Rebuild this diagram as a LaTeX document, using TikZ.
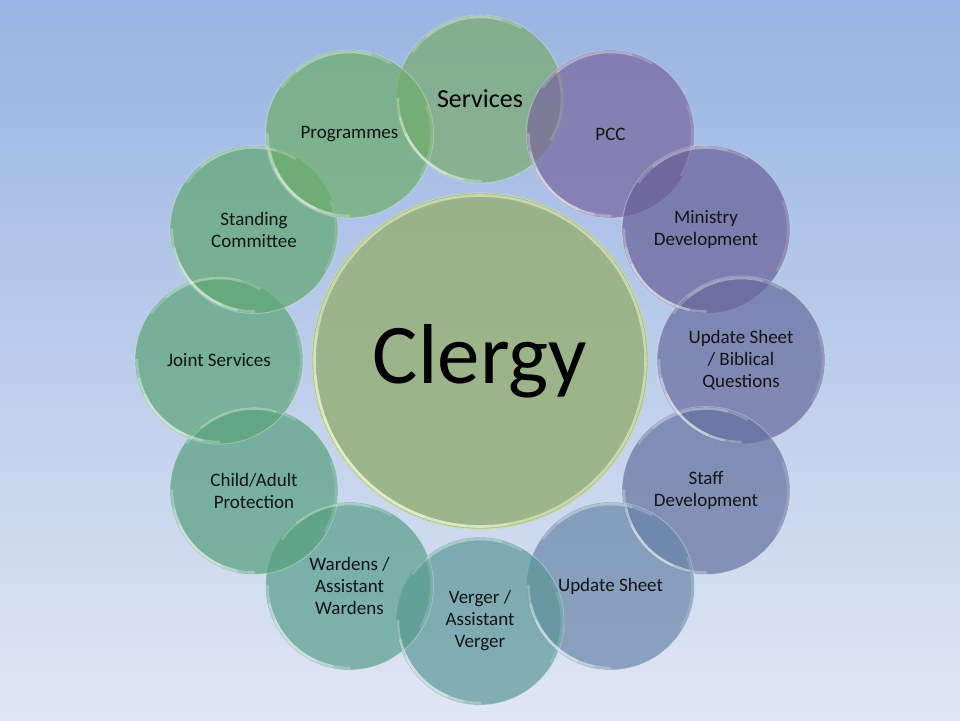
\documentclass[tikz,border=0pt]{standalone}
\usepackage{fontspec}
\setmainfont{Carlito}
\definecolor{bgtop}{RGB}{152,180,226}
\definecolor{bgmid}{RGB}{188,205,235}
\definecolor{bgbot}{RGB}{224,230,244}
\definecolor{colA}{RGB}{122,171,110}
\definecolor{colB}{RGB}{120,102,157}
\definecolor{colC}{RGB}{103,95,151}
\definecolor{colD}{RGB}{102,106,156}
\definecolor{colE}{RGB}{99,114,158}
\definecolor{colF}{RGB}{104,134,168}
\definecolor{colG}{RGB}{91,151,153}
\definecolor{colH}{RGB}{87,157,140}
\definecolor{colI}{RGB}{85,160,126}
\definecolor{colJ}{RGB}{91,164,121}
\definecolor{colK}{RGB}{96,167,112}
\definecolor{colL}{RGB}{109,173,106}
\definecolor{colHub}{RGB}{151,176,120}
\definecolor{hubrim}{RGB}{238,245,220}
\definecolor{hubedge}{RGB}{205,222,150}
\tikzset{
  ring/.style={circle, minimum size=168pt, inner sep=0pt, fill opacity=0.7,
    draw=white, draw opacity=0.3, line width=1pt},
  hub/.style={circle, minimum size=336pt, inner sep=0pt, fill opacity=0.85,
    draw=hubedge, draw opacity=0.9, line width=1pt},
  hilite/.style={white, opacity=0.28, line width=2.6pt, line cap=round},
  lbl/.style={font=\fontsize{19}{22}\selectfont, align=center, text=black!92, inner sep=0pt},
  biglbl/.style={font=\fontsize{26}{30}\selectfont, align=center, text=black, inner sep=0pt},
  hublbl/.style={font=\fontsize{85}{90}\selectfont, text=black, inner sep=0pt}
}
\begin{document}
\begin{tikzpicture}[x=1pt,y=-1pt]
\useasboundingbox (0,0) rectangle (960,720);
\shade[top color=bgtop, middle color=bgmid, bottom color=bgbot] (0,0) rectangle (960,720);

% centre
\node[hub, fill=colHub] (clergy) at (480,361) {};
\draw[hubrim, opacity=0.55, line width=2.6pt] (clergy.center) circle[radius=165.5];
\foreach \a/\b in {-170/-280,-185/-265,-200/-250}{
  \draw[hubrim, opacity=0.3, line width=2.8pt, line cap=round]
    ([shift={(clergy.center)}]\a:165.5) arc[start angle=\a, end angle=\b, radius=165.5];
}

% ring of circles
\node[ring, fill=colA] (services)   at (480,99) {};
\node[ring, fill=colB] (pcc)        at (610.5,134) {};
\node[ring, fill=colC] (ministry)   at (706,229.5) {};
\node[ring, fill=colD] (biblical)   at (741,360) {};
\node[ring, fill=colE] (staff)      at (706,490.5) {};
\node[ring, fill=colF] (update)     at (610.5,586) {};
\node[ring, fill=colG] (verger)     at (480,621) {};
\node[ring, fill=colH] (wardens)    at (349.5,586) {};
\node[ring, fill=colI] (protection) at (254,490.5) {};
\node[ring, fill=colJ] (joint)      at (219,360) {};
\node[ring, fill=colK] (standing)   at (254,229.5) {};
\node[ring, fill=colL] (programmes) at (349.5,134) {};

% glassy highlights on the rims (layered arcs fade towards their ends)
\foreach \n in {services,pcc,ministry,biblical,staff,update,verger,wardens,protection,joint,standing,programmes}{
  \foreach \a/\b in {-180/-270,-193/-258,-205/-246}{
    \draw[hilite] ([shift={(\n.center)}]\a:82) arc[start angle=\a, end angle=\b, radius=82];
  }
  \foreach \a/\b in {-60/-145,-75/-130}{
    \draw[hilite, opacity=0.2] ([shift={(\n.center)}]\a:82) arc[start angle=\a, end angle=\b, radius=82];
  }
  \draw[hilite, opacity=0.15] ([shift={(\n.center)}]30:82) arc[start angle=30, end angle=-20, radius=82];
}

% labels
\node[hublbl] (clergyt) at (clergy) {Clergy};
\node[biglbl] (servicest) at (services) {Services};
\node[lbl] (pcct) at (pcc) {PCC};
\node[lbl] (ministryt) at (ministry) {Ministry\\Development};
\node[lbl] (biblicalt) at (biblical) {Update Sheet\\/ Biblical\\Questions};
\node[lbl] (stafft) at (staff) {Staff\\Development};
\node[lbl] (updatet) at (update) {Update Sheet};
\node[lbl] (vergert) at (verger) {Verger /\\Assistant\\Verger};
\node[lbl] (wardenst) at (wardens) {Wardens /\\Assistant\\Wardens};
\node[lbl] (protectiont) at (protection) {Child/Adult\\Protection};
\node[lbl] (jointt) at (joint) {Joint Services};
\node[lbl] (standingt) at (standing) {Standing\\Committee};
\node[lbl] (programmest) at (programmes) {Programmes};
\end{tikzpicture}
\end{document}
